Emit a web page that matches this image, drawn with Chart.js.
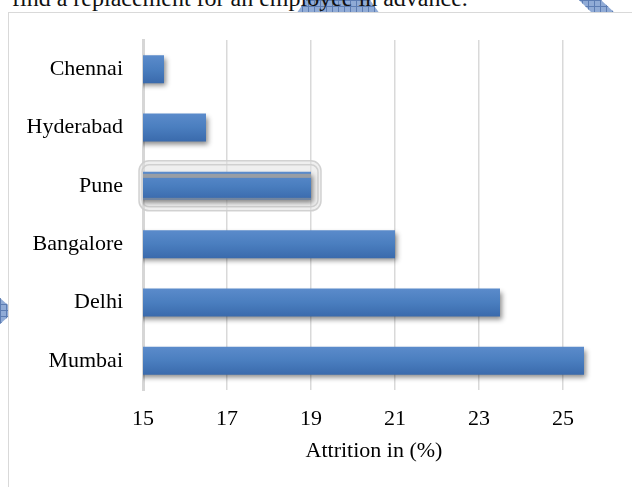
<!DOCTYPE html>
<html>
<head>
<meta charset="utf-8">
<script src="https://cdn.jsdelivr.net/npm/chart.js@4.4.1/dist/chart.umd.min.js"></script>
<style>
  html, body { margin: 0; padding: 0; background: #fff; overflow: hidden; }
  #page { position: relative; width: 632px; height: 487px; overflow: hidden; }
  .mark { position: absolute; background-color: #90abd6;
    background-image: linear-gradient(#5d7db3 1px, transparent 1px), linear-gradient(90deg, #5d7db3 1px, transparent 1px);
    background-size: 6px 6px; }
  #topText { position: absolute; left: 12px; top: -14px; font: 24px/24px "Liberation Serif", "DejaVu Serif", serif; color: #111; white-space: nowrap; }
  #frame { position: absolute; left: 8px; top: 12px; width: 700px; height: 520px; border: 1px solid #d9d9d9; background: #fff; }
  #chartBox { position: absolute; left: 0; top: 0; width: 632px; height: 487px; }
</style>
</head>
<body>
<div id="page">
  <div class="mark" style="left:296px;top:0;width:86px;height:14px;clip-path:polygon(10px 0,74px 0,84px 14px,0 14px);"></div>
  <div class="mark" style="left:576px;top:0;width:42px;height:14px;clip-path:polygon(3px 0,25px 0,40px 14px,17px 14px);"></div>
  <div class="mark" style="left:0;top:298px;width:9px;height:26px;clip-path:polygon(0 0,9px 8px,9px 18px,0 26px);"></div>
  <div id="topText">find a replacement for an employee in advance.</div>
  <div id="frame"></div>
  <div id="chartBox"><canvas id="grafico" width="632" height="487"></canvas></div>
</div>
<script>
// datos del grafico
const ciudades = ["Chennai", "Hyderabad", "Pune", "Bangalore", "Delhi", "Mumbai"];
const attrition = [15.5, 16.5, 19, 21, 23.5, 25.5];
const ticksX = [15, 17, 19, 21, 23, 25];

const fuente = "'Liberation Serif', 'DejaVu Serif', serif";

// sombra de las barras + halo de Pune
const sombra = {
    id: "sombra",
    beforeDatasetsDraw(chart) {
        const ctx = chart.ctx;
        const bar = chart.getDatasetMeta(0).data[2];
        if (bar) {
            const x0 = chart.chartArea.left - 4;
            const x1 = bar.x + 10;
            const y0 = bar.y - bar.height / 2 - 11;
            const h = bar.height + 22;
            ctx.save();
            ctx.fillStyle = "rgba(225,225,225,0.55)";
            ctx.strokeStyle = "rgba(205,205,205,0.9)";
            ctx.lineWidth = 1.5;
            ctx.beginPath();
            ctx.roundRect(x0, y0, x1 - x0, h, 10);
            ctx.fill();
            ctx.stroke();
            ctx.beginPath();
            ctx.roundRect(x0 + 3, y0 + 4, x1 - x0 - 6, h - 8, 7);
            ctx.stroke();
            ctx.restore();
        }
        ctx.save();
        ctx.shadowColor = "rgba(0,0,0,0.45)";
        ctx.shadowBlur = 5;
        ctx.shadowOffsetX = 2;
        ctx.shadowOffsetY = 3;
    },
    afterDatasetsDraw(chart) {
        chart.ctx.restore();
        const bar = chart.getDatasetMeta(0).data[2];
        if (bar) {
            const ctx = chart.ctx;
            ctx.save();
            ctx.fillStyle = "rgba(160,160,160,0.9)";
            ctx.fillRect(chart.chartArea.left, bar.y - bar.height / 2 + 2, bar.x - chart.chartArea.left, 4);
            ctx.fillStyle = "rgba(150,150,150,0.6)";
            ctx.fillRect(chart.chartArea.left, bar.y + bar.height / 2 - 2, bar.x - chart.chartArea.left, 2);
            ctx.restore();
        }
    }
};

function degradado(context) {
    const chart = context.chart;
    const y = chart.scales.y;
    if (!y || context.dataIndex === undefined) return "#4a7ebb";
    const c = y.getPixelForValue(context.dataIndex);
    if (!isFinite(c)) return "#4a7ebb";
    const g = chart.ctx.createLinearGradient(0, c - 14, 0, c + 14);
    g.addColorStop(0, "#5b8bcb");
    g.addColorStop(0.5, "#4a7ebf");
    g.addColorStop(1, "#3a6aac");
    return g;
}

new Chart("grafico", {
    type: "bar",
    data: {
        labels: ciudades,
        datasets: [{
            data: attrition,
            backgroundColor: degradado,
            borderWidth: 0,
            barPercentage: 0.48,
            categoryPercentage: 1
        }]
    },
    plugins: [sombra],
    options: {
        indexAxis: "y",
        responsive: false,
        animation: false,
        layout: { padding: { top: 40, right: 27, left: 0, bottom: 0 } },
        plugins: {
            legend: { display: false },
            tooltip: { enabled: false }
        },
        scales: {
            x: {
                min: 15,
                max: 26,
                afterBuildTicks: (scale) => {
                    scale.ticks = ticksX.map(v => ({ value: v }));
                },
                afterFit: (scale) => { scale.height = 97; },
                grid: { color: "#d9d9d9", lineWidth: 1.5, drawTicks: false },
                border: { display: false },
                ticks: {
                    color: "#000",
                    padding: 16,
                    maxRotation: 0,
                    font: { family: fuente, size: 22 }
                },
                title: {
                    display: true,
                    text: "Attrition in (%)",
                    color: "#000",
                    padding: { top: 0, bottom: 23 },
                    font: { family: fuente, size: 22 }
                }
            },
            y: {
                afterFit: (scale) => { scale.width = 143; },
                grid: { display: false, drawTicks: false },
                border: { display: true, color: "#d6d6d6", width: 3 },
                ticks: {
                    color: "#000",
                    padding: 20,
                    font: { family: fuente, size: 22 }
                }
            }
        }
    }
});
</script>
</body>
</html>
